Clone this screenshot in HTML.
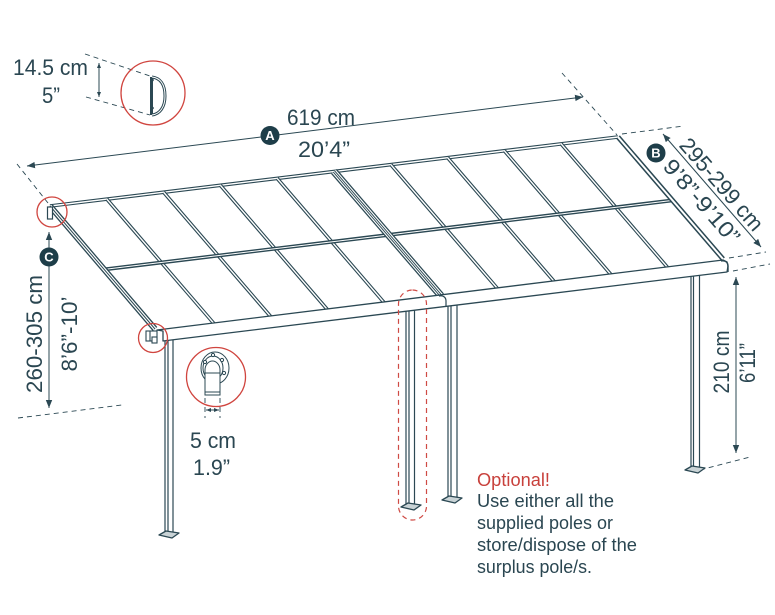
<!DOCTYPE html>
<html><head><meta charset="utf-8">
<style>
html,body{margin:0;padding:0;background:#fff;}
svg{display:block;}
text{font-family:"Liberation Sans",sans-serif;fill:#2a4651;}
</style></head>
<body>
<svg width="775" height="615" viewBox="0 0 775 615" xmlns="http://www.w3.org/2000/svg">
<defs>
<marker id="ah" viewBox="0 0 10 10" refX="10" refY="5" markerWidth="8" markerHeight="8" markerUnits="userSpaceOnUse" orient="auto-start-reverse"><path d="M0,1 L10,5 L0,9 z" fill="#2b4853"/></marker>
<marker id="ahs" viewBox="0 0 10 10" refX="10" refY="5" markerWidth="5" markerHeight="5" markerUnits="userSpaceOnUse" orient="auto-start-reverse"><path d="M0,1 L10,5 L0,9 z" fill="#2b4853"/></marker>
</defs>

<!-- dashed extension lines -->
<g stroke="#2b4853" stroke-width="0.9" stroke-dasharray="5 4" fill="none">
<line x1="17" y1="164" x2="48" y2="203"/>
<line x1="562" y1="73" x2="617" y2="135"/>
<line x1="85" y1="54" x2="150" y2="76"/>
<line x1="86" y1="97" x2="150" y2="115"/>
<line x1="622" y1="134" x2="684" y2="126"/>
<line x1="729" y1="258" x2="766" y2="252"/>
<line x1="18" y1="418" x2="122" y2="405"/>
<line x1="733" y1="271" x2="770" y2="264"/>
<line x1="700" y1="470" x2="750" y2="457"/>
<line x1="205" y1="398" x2="205" y2="418"/>
<line x1="220" y1="398" x2="220" y2="418"/>
</g>

<!-- dimension arrows -->
<g stroke="#2b4853" stroke-width="1" fill="none">
<line x1="27" y1="166" x2="583" y2="97" marker-start="url(#ah)" marker-end="url(#ah)"/>
<line x1="663" y1="134" x2="761" y2="247" marker-start="url(#ah)" marker-end="url(#ah)"/>
<line x1="49" y1="232" x2="49" y2="408" marker-start="url(#ah)" marker-end="url(#ah)"/>
<line x1="736" y1="277" x2="736" y2="453" marker-start="url(#ah)" marker-end="url(#ah)"/>
<line x1="99" y1="63" x2="99" y2="97" marker-start="url(#ahs)" marker-end="url(#ahs)"/>
<line x1="206" y1="410" x2="219" y2="410" marker-start="url(#ahs)" marker-end="url(#ahs)"/>
</g>

<!-- poles -->
<g stroke="#2b4853" stroke-width="1.2" fill="#fff">
<rect x="165" y="339" width="8" height="194"/>
<line x1="168" y1="340" x2="168" y2="533"/>
<rect x="406" y="310" width="8.5" height="194"/>
<line x1="409" y1="311" x2="409" y2="504"/>
<rect x="448" y="304" width="9" height="194"/>
<line x1="451" y1="305" x2="451" y2="498"/>
<rect x="691" y="274" width="8.5" height="194"/>
<line x1="693.5" y1="275" x2="693.5" y2="468"/>
</g>
<g stroke="#2b4853" stroke-width="1.3" fill="#c9d3d6" stroke-linejoin="round">
<polygon points="159,535 166,531 179,533 172,538"/>
<polygon points="401,507 408,503 421,505 414,510"/>
<polygon points="442,500 449,496 462,498 455,503"/>
<polygon points="685,470 692,466 705,468 698,473"/>
</g>

<!-- roof -->
<g fill="none" stroke-linecap="butt">
<!-- back rail -->
<line x1="50" y1="206" x2="618" y2="137" stroke="#2b4853" stroke-width="3.6"/>
<line x1="50" y1="206" x2="618" y2="137" stroke="#fff" stroke-width="1.4"/>
<!-- rafters -->
<path d="M106.8,199.1 L213.9,323.5 M163.6,192.2 L270.7,316.6 M220.4,185.3 L327.5,309.7 M277.2,178.4 L384.3,302.8 M390.8,164.6 L497.9,289 M447.6,157.7 L554.7,282.1 M504.4,150.8 L611.5,275.2 M561.2,143.9 L668.3,268.3" stroke="#2b4853" stroke-width="3.6"/>
<path d="M106.8,199.1 L213.9,323.5 M163.6,192.2 L270.7,316.6 M220.4,185.3 L327.5,309.7 M277.2,178.4 L384.3,302.8 M390.8,164.6 L497.9,289 M447.6,157.7 L554.7,282.1 M504.4,150.8 L611.5,275.2 M561.2,143.9 L668.3,268.3" stroke="#fff" stroke-width="1.4"/>
<!-- crossbar -->
<line x1="104.6" y1="269.4" x2="672.6" y2="200.4" stroke="#2b4853" stroke-width="3.8"/>
<line x1="104.6" y1="269.4" x2="672.6" y2="200.4" stroke="#fff" stroke-width="1"/>
<!-- middle joint rafter -->
<line x1="334" y1="171.5" x2="441.1" y2="295.9" stroke="#2b4853" stroke-width="7.5"/>
<line x1="334" y1="171.5" x2="441.1" y2="295.9" stroke="#fff" stroke-width="5"/>
<line x1="334" y1="171.5" x2="441.1" y2="295.9" stroke="#2b4853" stroke-width="2.8"/>
<line x1="334" y1="171.5" x2="441.1" y2="295.9" stroke="#fff" stroke-width="0.9"/>
<!-- left side rail -->
<line x1="50" y1="206" x2="155" y2="329" stroke="#2b4853" stroke-width="6"/>
<line x1="50" y1="206" x2="155" y2="329" stroke="#fff" stroke-width="3.4"/>
<line x1="50" y1="206" x2="155" y2="329" stroke="#2b4853" stroke-width="1"/>
<!-- right side rail -->
<line x1="618" y1="137" x2="723" y2="259" stroke="#2b4853" stroke-width="5"/>
<line x1="618" y1="137" x2="723" y2="259" stroke="#fff" stroke-width="2"/>
</g>

<!-- front beam -->
<polygon points="157,330 723,260 727,262 728,266 727,272 163,341 163,331" fill="#fff" stroke="#2b4853" stroke-width="1.3" stroke-linejoin="round"/>
<path d="M439,296 C444,295 446,298 446,301 L446,306" fill="none" stroke="#2b4853" stroke-width="1.2"/>
<path d="M721,261 C726,260 728,263 728,266 L728,272" fill="none" stroke="#2b4853" stroke-width="1.4"/>
<!-- corner brackets -->
<rect x="47.5" y="207" width="5" height="12" fill="#fff" stroke="#2b4853" stroke-width="1.2"/>
<g fill="#fff" stroke="#2b4853" stroke-width="1.1">
<rect x="146" y="331" width="11" height="10"/>
<line x1="150" y1="331" x2="150" y2="341"/>
<rect x="152" y="337" width="5" height="6"/>
</g>

<!-- dashed optional oval -->
<rect x="398.5" y="290" width="28" height="230" rx="14" ry="14" fill="none" stroke="#cf4a44" stroke-width="1.2" stroke-dasharray="5 4"/>

<!-- red detail circles -->
<g fill="none" stroke="#d0453f" stroke-width="1.3">
<circle cx="153" cy="93" r="32"/>
<circle cx="52" cy="212" r="15"/>
<circle cx="153" cy="338" r="14.5"/>
<circle cx="216" cy="377" r="29.5"/>
</g>

<!-- D profile detail -->
<path d="M151.5,77 L151.5,115 M152,77 C160,78 165,84 165,96 C165,107 160,114 152,115" fill="none" stroke="#2b4853" stroke-width="3"/>
<path d="M152,77 C160,78 165,84 165,96 C165,107 160,114 152,115" fill="none" stroke="#fff" stroke-width="1"/>
<circle cx="152.5" cy="80" r="1.3" fill="#2b4853"/>
<circle cx="152.5" cy="108" r="1.3" fill="#2b4853"/>

<!-- pole bracket detail -->
<g stroke="#2b4853" stroke-width="1" fill="#fff">
<ellipse cx="215" cy="368" rx="14" ry="16"/>
<ellipse cx="213" cy="368" rx="10" ry="12"/>
<circle cx="205" cy="362" r="1.6"/>
<circle cx="213" cy="355" r="1.6"/>
<circle cx="222" cy="360" r="1.6"/>
<circle cx="224" cy="373" r="1.6"/>
<path d="M205,395 L205,370 A7.5,9 0 0 1 220,370 L220,395 Z"/>
<line x1="205" y1="373" x2="220" y2="373"/>
<line x1="205" y1="392" x2="220" y2="392"/>
</g>

<!-- labels -->
<circle cx="270" cy="135.5" r="9.5" fill="#1e3e49"/>
<text x="270" y="140" font-size="13" text-anchor="middle" font-weight="bold" style="fill:#fff">A</text>
<circle cx="656" cy="153" r="9.5" fill="#1e3e49"/>
<text x="656" y="157.5" font-size="13" text-anchor="middle" font-weight="bold" style="fill:#fff">B</text>
<circle cx="49" cy="257" r="9.5" fill="#1e3e49"/>
<text x="49" y="261.5" font-size="13" text-anchor="middle" font-weight="bold" style="fill:#fff">C</text>

<!-- dimension text -->
<text x="287" y="125" font-size="22" textLength="68" lengthAdjust="spacingAndGlyphs">619 cm</text>
<text x="298" y="157" font-size="22" textLength="52" lengthAdjust="spacingAndGlyphs">20’4”</text>
<text x="13" y="75" font-size="22" textLength="75" lengthAdjust="spacingAndGlyphs">14.5 cm</text>
<text x="42" y="103" font-size="22" textLength="18" lengthAdjust="spacingAndGlyphs">5”</text>
<text x="190" y="448" font-size="22" textLength="46" lengthAdjust="spacingAndGlyphs">5 cm</text>
<text x="193" y="475" font-size="22" textLength="37" lengthAdjust="spacingAndGlyphs">1.9”</text>
<text transform="translate(34,334) rotate(-90)" x="0" y="8" font-size="22" text-anchor="middle" textLength="118" lengthAdjust="spacingAndGlyphs">260-305 cm</text>
<text transform="translate(69,334) rotate(-90)" x="0" y="8" font-size="22" text-anchor="middle" textLength="75" lengthAdjust="spacingAndGlyphs">8’6”-10’</text>
<text transform="translate(721,362) rotate(-90)" x="0" y="8" font-size="22" text-anchor="middle" textLength="63" lengthAdjust="spacingAndGlyphs">210 cm</text>
<text transform="translate(747,363) rotate(-90)" x="0" y="8" font-size="22" text-anchor="middle" textLength="40" lengthAdjust="spacingAndGlyphs">6’11”</text>
<text transform="translate(722,184) rotate(49)" x="0" y="8" font-size="22" text-anchor="middle" textLength="115" lengthAdjust="spacingAndGlyphs">295-299 cm</text>
<text transform="translate(702,201) rotate(49)" x="0" y="8" font-size="22" text-anchor="middle" textLength="104" lengthAdjust="spacingAndGlyphs">9’8”-9’10”</text>

<!-- optional note -->
<text x="477" y="486" font-size="18" textLength="73" lengthAdjust="spacingAndGlyphs" style="fill:#c8413c">Optional!</text>
<text x="477" y="507" font-size="18" textLength="137" lengthAdjust="spacingAndGlyphs">Use either all the</text>
<text x="477" y="529" font-size="18" textLength="136" lengthAdjust="spacingAndGlyphs">supplied poles or</text>
<text x="477" y="551" font-size="18" textLength="160" lengthAdjust="spacingAndGlyphs">store/dispose of the</text>
<text x="477" y="573" font-size="18" textLength="115" lengthAdjust="spacingAndGlyphs">surplus pole/s.</text>
</svg>
</body></html>
